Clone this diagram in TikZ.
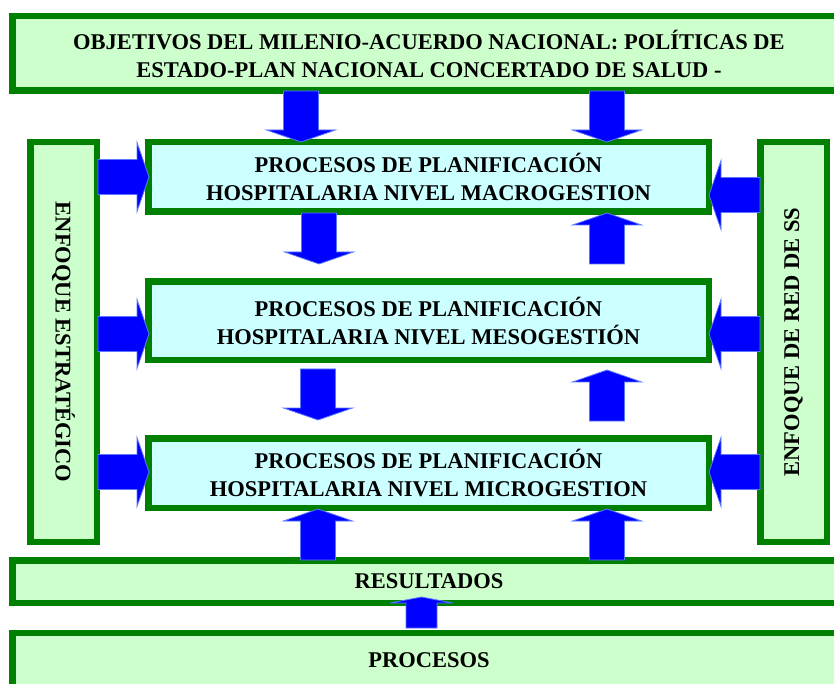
\documentclass[tikz,border=0pt]{standalone}
\usepackage{fontspec}
\setmainfont{Liberation Serif}
\definecolor{boxgreen}{RGB}{0,128,0}
\definecolor{palegreen}{RGB}{204,255,204}
\definecolor{palecyan}{RGB}{204,255,255}
\definecolor{arrowblue}{RGB}{0,0,255}
\definecolor{arrowedge}{RGB}{90,120,255}
\begin{document}
\begin{tikzpicture}[x=1pt,y=1pt,
  lbl/.style={font=\bfseries\fontsize{22.5}{28}\selectfont, text=black, align=center, inner sep=0pt},
  gbox/.style={draw=boxgreen, line width=6.5pt, fill=palegreen, inner sep=0pt, lbl},
  cbox/.style={gbox, fill=palecyan},
  arrowfill/.style={fill=arrowblue, draw=arrowedge, line width=0.8pt, line join=miter},
  barrow/.pic={\path[arrowfill] (0,-17.5) -- (39,-17.5) -- (39,-34.5) -- (51,0) -- (39,34.5) -- (39,17.5) -- (0,17.5) -- cycle;},
  sarrow/.pic={\path[arrowfill] (0,-15.5) -- (25,-15.5) -- (25,-31.5) -- (31,0) -- (25,31.5) -- (25,15.5) -- (0,15.5) -- cycle;}
]
\useasboundingbox (0,0) rectangle (834,683);
\clip (0,0) rectangle (834,683);
\fill[white] (0,0) rectangle (834,683);
% boxes
\node[gbox, minimum width=833.5pt, minimum height=74.5pt] (obj) at (429,629.5)
  {OBJETIVOS DEL MILENIO-ACUERDO NACIONAL: POLÍTICAS DE\\ESTADO-PLAN NACIONAL CONCERTADO DE SALUD -};
\node[gbox, minimum width=66.5pt, minimum height=399.5pt] (est) at (63.5,341) {};
\node[lbl, rotate=-90] (estlabel) at (est.center) {ENFOQUE ESTRATÉGICO};
\node[gbox, minimum width=66.5pt, minimum height=399.5pt] (red) at (793.5,341) {};
\node[lbl, rotate=90] (redlabel) at (red.center) {ENFOQUE DE RED DE SS};
\node[cbox, minimum width=560.5pt, minimum height=69.5pt] (macro) at (428.5,506)
  {PROCESOS DE PLANIFICACIÓN\\HOSPITALARIA NIVEL MACROGESTION};
\node[cbox, minimum width=560.5pt, minimum height=78.5pt] (meso) at (428.5,362)
  {PROCESOS DE PLANIFICACIÓN\\HOSPITALARIA NIVEL MESOGESTIÓN};
\node[cbox, minimum width=560.5pt, minimum height=69.5pt] (micro) at (428.5,210)
  {PROCESOS DE PLANIFICACIÓN\\HOSPITALARIA NIVEL MICROGESTION};
\node[gbox, minimum width=833.5pt, minimum height=42.5pt] (res) at (429,101.5) {RESULTADOS};
\node[gbox, minimum width=833.5pt, minimum height=73.5pt] (proc) at (429,13.25) {};
\node[lbl] (proclabel) at (429,23) {PROCESOS};
% arrows
\pic[rotate=-90] at (301,592) {barrow};
\pic[rotate=-90] at (607,592) {barrow};
\pic[rotate=-90] at (319,470) {barrow};
\pic[rotate=90] at (607,419) {barrow};
\pic[rotate=-90] at (318,314) {barrow};
\pic[rotate=90] at (607,262) {barrow};
\pic[rotate=90] at (318,123) {barrow};
\pic[rotate=90] at (607,123) {barrow};
\pic at (98,506) {barrow};
\pic at (98,349) {barrow};
\pic at (98,211) {barrow};
\pic[rotate=180] at (760,488) {barrow};
\pic[rotate=180] at (760,349) {barrow};
\pic[rotate=180] at (760,211) {barrow};
\pic[rotate=90] at (421.5,55) {sarrow};
\end{tikzpicture}
\end{document}
